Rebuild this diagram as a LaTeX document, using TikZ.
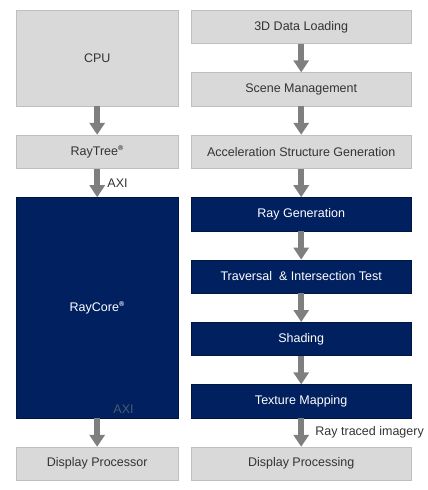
\documentclass[tikz,border=0pt]{standalone}
\usepackage{fontspec}
\setmainfont{Liberation Sans}
\usetikzlibrary{arrows.meta, positioning, shadows}

\definecolor{boxgray}{HTML}{D9D9D9}
\definecolor{edgegray}{HTML}{BFBFBF}
\definecolor{textgray}{HTML}{333333}
\definecolor{arrowgray}{HTML}{7F7F7F}
\definecolor{navy}{HTML}{002060}
\definecolor{navyedge}{HTML}{00163F}

\newcommand{\regmark}{\textsuperscript{\textbf{\scriptsize ®}}}

\begin{document}
\begin{tikzpicture}[
    font=\fontsize{12.5}{15}\selectfont,
    graybox/.style={rectangle, draw=edgegray, fill=boxgray, text=textgray, minimum height=33.4pt, align=center, drop shadow={shadow xshift=0.8pt, shadow yshift=-0.8pt, opacity=0.25}},
    bluebox/.style={rectangle, draw=navyedge, fill=navy, text=white, minimum height=33.4pt, align=center, drop shadow={shadow xshift=0.8pt, shadow yshift=-0.8pt, opacity=0.35}},
    narrow/.style={minimum width=162pt},
    wide/.style={minimum width=220pt},
    arrow/.style={-{Triangle[width=15pt, length=12pt]}, line width=6.5pt, draw=arrowgray},
    lbl/.style={text=textgray, inner sep=1pt},
    node distance=28.6pt
]
\useasboundingbox (0,0) rectangle (428pt,-490pt);

% Nodes
\node[graybox, narrow, minimum height=95.8pt, anchor=north west] (cpu) at (16pt,-10pt) {CPU};
\node[graybox, narrow, below=of cpu] (raytree) {RayTree\regmark};
\node[bluebox, narrow, minimum height=220.6pt, below=of raytree] (raycore) {RayCore\regmark};
\node[graybox, narrow, below=of raycore] (dispproc) {Display Processor};

\node[graybox, wide, anchor=north west] (loading) at (191pt,-10pt) {3D Data Loading};
\node[graybox, wide, below=of loading] (scene) {Scene Management};
\node[graybox, wide, below=of scene] (accel) {Acceleration Structure Generation};
\node[bluebox, wide, below=of accel] (raygen) {Ray Generation};
\node[bluebox, wide, below=of raygen] (traversal) {Traversal \ \& Intersection Test};
\node[bluebox, wide, below=of traversal] (shading) {Shading};
\node[bluebox, wide, below=of shading] (texture) {Texture Mapping};
\node[graybox, wide, below=of texture] (dispproc2) {Display Processing};

% Arrows
\draw[arrow] (cpu) -- (raytree);
\draw[arrow] (raytree) -- (raycore) node[midway, right, lbl, xshift=6pt] {AXI};
\draw[arrow] (raycore) -- (dispproc) node[pos=0, above right, lbl, xshift=12pt, text=arrowgray!60!navy] {AXI};
\draw[arrow] (loading) -- (scene);
\draw[arrow] (scene) -- (accel);
\draw[arrow] (accel) -- (raygen);
\draw[arrow] (raygen) -- (traversal);
\draw[arrow] (traversal) -- (shading);
\draw[arrow] (shading) -- (texture);
\draw[arrow] (texture) -- (dispproc2) node[midway, right, lbl, xshift=10pt] {Ray traced imagery};

\end{tikzpicture}
\end{document}
